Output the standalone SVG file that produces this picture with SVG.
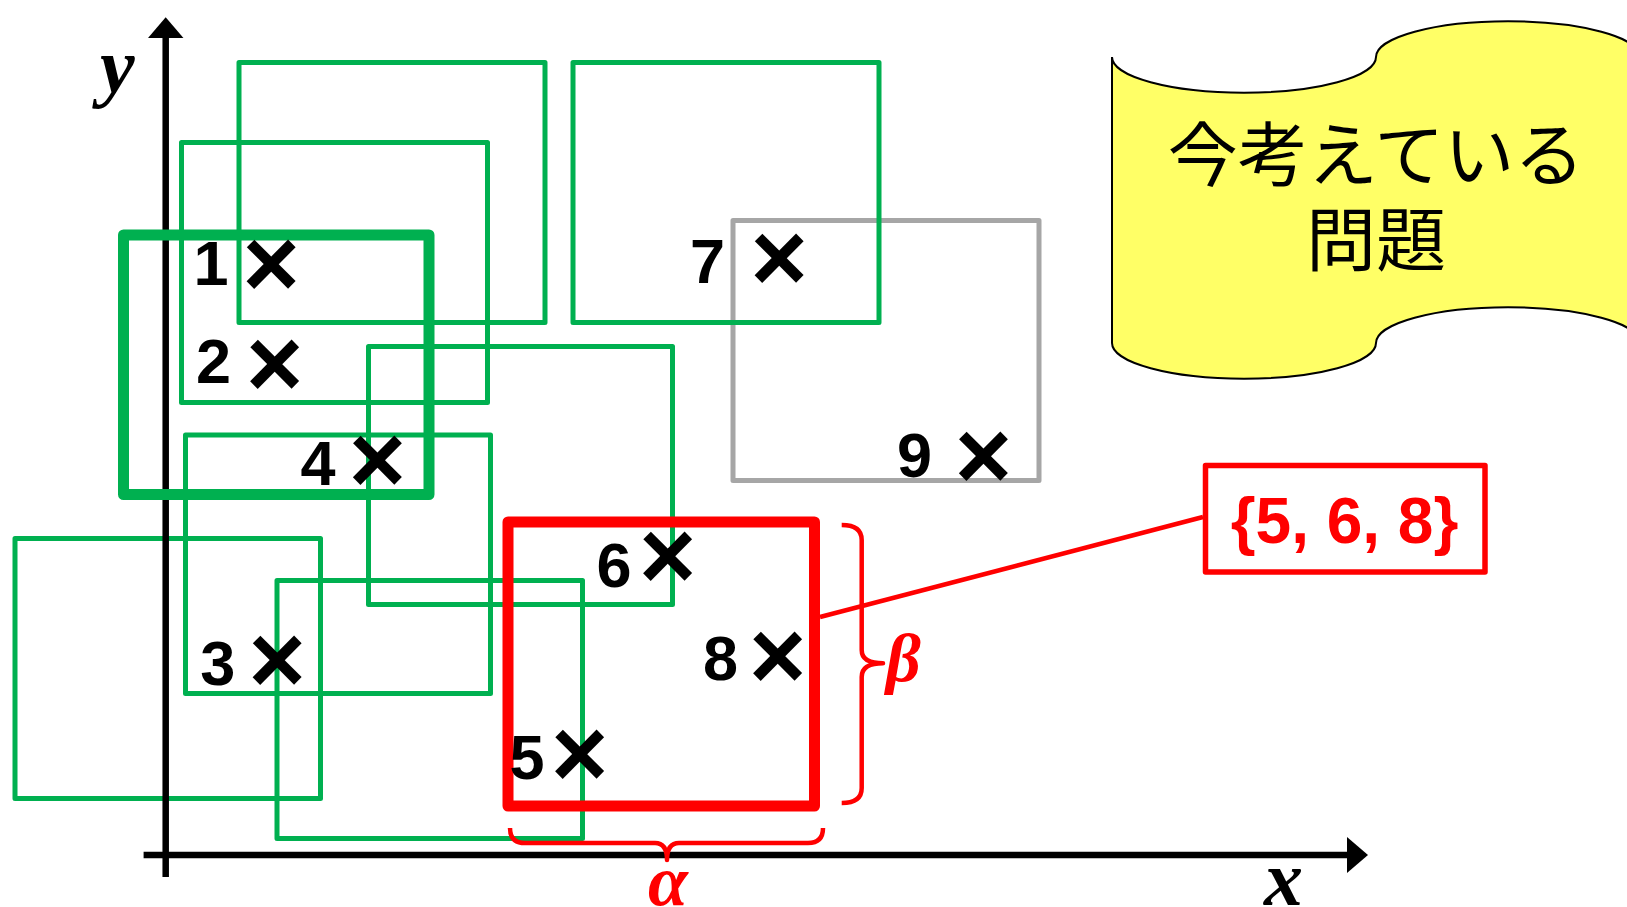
<svg xmlns="http://www.w3.org/2000/svg" width="1627" height="907" viewBox="0 0 1627 907">
<style>
.g{fill:none;stroke:#00B050;stroke-width:5;stroke-linejoin:round}
.gt{stroke-width:11}
.gy{fill:none;stroke:#A6A6A6;stroke-width:5;stroke-linejoin:round}
.rd{fill:none;stroke:#FF0000;stroke-linejoin:round}
.ax{stroke:#000;stroke-width:6.5;fill:none}
.num{font-family:"Liberation Sans",Arial,sans-serif;font-weight:bold;font-size:63px;text-anchor:middle;fill:#000}
.mk{font-family:"Liberation Sans",Arial,sans-serif;font-weight:bold;font-size:98px;text-anchor:middle;fill:#000}
.it{font-family:"Liberation Serif","Times New Roman",serif;font-style:italic;font-weight:bold}
</style>
<defs>
<marker id="arr" viewBox="0 -18 21 36" markerWidth="21" markerHeight="36" refX="2" refY="0" orient="auto" markerUnits="userSpaceOnUse">
<path d="M0,-18 L21,0 L0,18 Z" fill="#000"/>
</marker>
</defs>
<rect width="1627" height="907" fill="#fff"/>

<g id="rect-E"><rect class="g" x="15" y="538.5" width="305.5" height="260"/></g>
<g id="axes">
<line class="ax" x1="143.6" y1="855" x2="1349" y2="855" marker-end="url(#arr)"/>
<line class="ax" x1="165.7" y1="877" x2="165.7" y2="36.3" marker-end="url(#arr)"/>
<text class="it" x="100" y="92" font-size="78">y</text>
<text class="it" x="1264" y="905" font-size="78">x</text>
</g>
<g id="rect-A"><rect class="g" x="239" y="62.5" width="306" height="260"/></g>
<g id="rect-B"><rect class="g" x="181.5" y="142.5" width="306" height="260"/></g>
<g id="rect-9"><rect class="gy" x="733" y="220.5" width="306" height="260"/></g>
<g id="rect-G"><rect class="g" x="573" y="62.5" width="306" height="260"/></g>
<g id="rect-C"><rect class="g" x="368.5" y="346.5" width="304" height="258"/></g>
<g id="rect-D"><rect class="g" x="185.5" y="435" width="305" height="258.5"/></g>
<g id="rect-F"><rect class="g" x="277" y="580.5" width="305.5" height="258"/></g>
<g id="rect-1"><rect class="g gt" x="123.5" y="235" width="305.5" height="259.5"/></g>
<g id="rect-red"><rect class="rd" stroke-width="11" x="508" y="522" width="306.5" height="284"/></g>

<g id="connectors">
<line class="rd" stroke-width="4.5" x1="820" y1="617" x2="1203" y2="517"/>
<path class="rd" stroke-width="4.5" d="M841.7,525 Q861.7,525 861.7,540 L861.7,650 Q861.7,663.3 883,663.3 Q861.7,663.3 861.7,677 L861.7,788 Q861.7,803 841.7,803"/>
<path class="rd" stroke-width="4.5" d="M510,828 Q510,843 525,843 L655,843 Q667,843 667,860 Q667,843 679,843 L808,843 Q823,843 823,828"/>
</g>

<g id="point-1"><text class="num" x="211" y="285">1</text><text class="mk" x="271" y="297">×</text></g>
<g id="point-2"><text class="num" x="213.4" y="383">2</text><text class="mk" x="274.6" y="397">×</text></g>
<g id="point-4"><text class="num" x="318" y="485">4</text><text class="mk" x="377.3" y="493">×</text></g>
<g id="point-3"><text class="num" x="217.7" y="685">3</text><text class="mk" x="277" y="693">×</text></g>
<g id="point-6"><text class="num" x="614" y="587">6</text><text class="mk" x="667.5" y="589">×</text></g>
<g id="point-8"><text class="num" x="720.4" y="680">8</text><text class="mk" x="777.5" y="689">×</text></g>
<g id="point-5"><text class="num" x="527" y="779">5</text><text class="mk" x="579.5" y="787">×</text></g>
<g id="point-7"><text class="num" x="707.6" y="283">7</text><text class="mk" x="779" y="291">×</text></g>
<g id="point-9"><text class="num" x="914.6" y="477">9</text><text class="mk" x="983.3" y="489">×</text></g>

<g id="label-alpha"><text class="it" x="668" y="905" font-size="72" fill="#FF0000" text-anchor="middle">α</text></g>
<g id="label-beta"><text class="it" x="886" y="681" font-size="68" fill="#FF0000">β</text></g>

<g id="set-box">
<rect class="rd" stroke-width="5.5" x="1205.5" y="465.5" width="279.5" height="106.5" fill="#fff"/>
<text x="1344.5" y="543" font-family="'Liberation Sans',Arial,sans-serif" font-weight="bold" font-size="64" fill="#FF0000" text-anchor="middle">{5, 6, 8}</text>
</g>

<g id="banner">
<path d="M1112,57 A132,35.7 0 0 0 1376,57 A132,35.7 0 0 1 1640,57 L1640,343 A132,35.7 0 0 0 1376,343 A132,35.7 0 0 1 1112,343 Z" fill="#FFFF66" stroke="#000" stroke-width="2"/>
<text x="1376" y="181" font-family="'Noto Sans CJK JP',sans-serif" font-size="70" text-anchor="middle" fill="#000">今考えている</text>
<text x="1376" y="266" font-family="'Noto Sans CJK JP',sans-serif" font-size="70" text-anchor="middle" fill="#000">問題</text>
</g>
</svg>
